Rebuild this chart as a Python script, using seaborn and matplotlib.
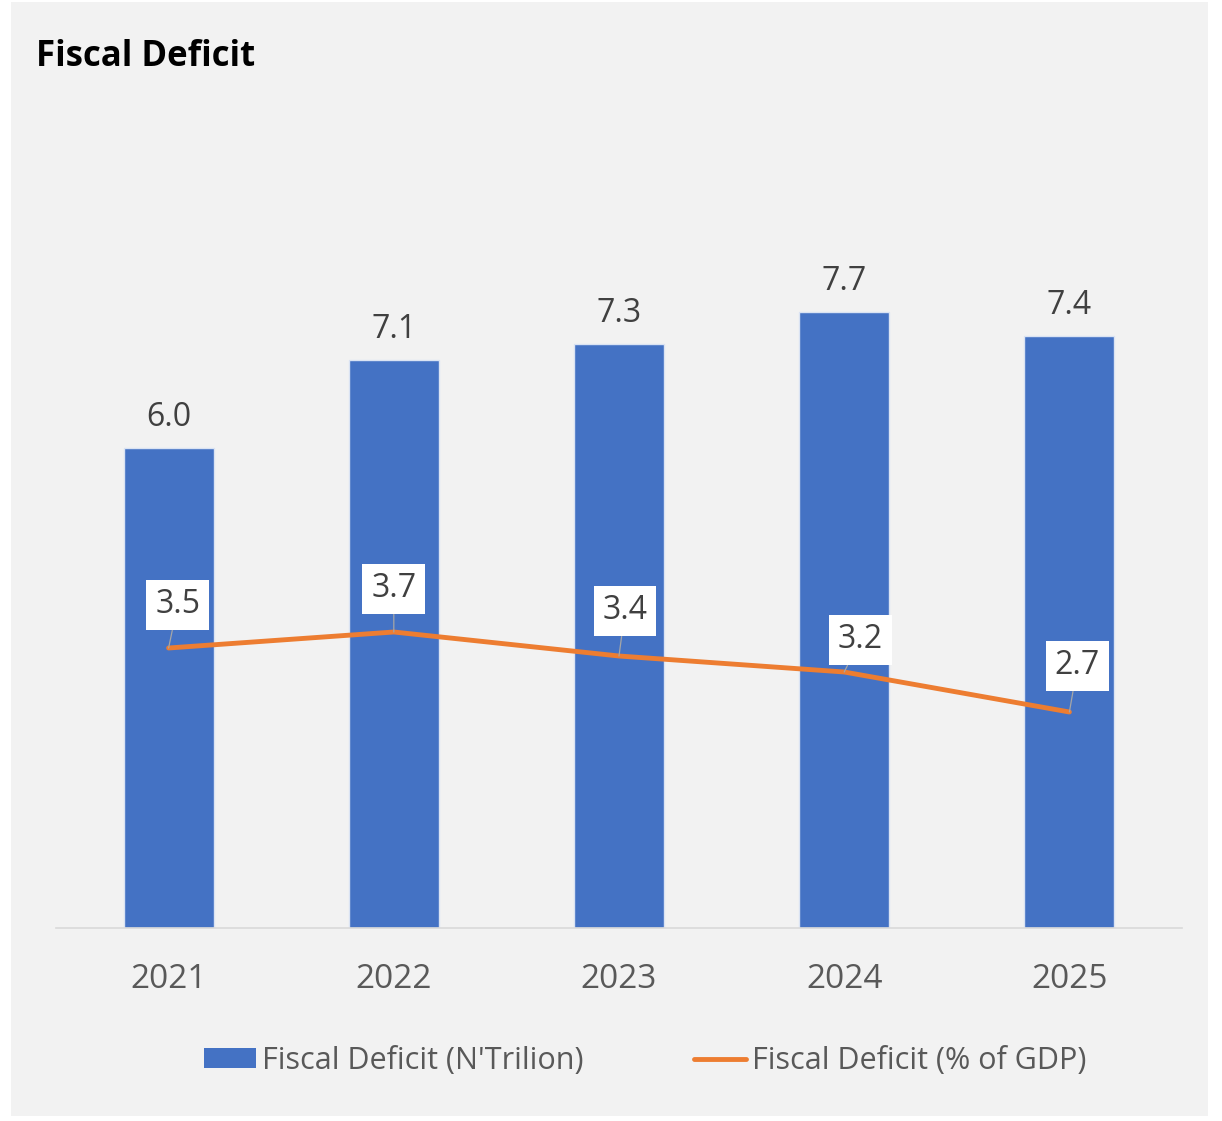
import numpy as np
import pandas as pd
import matplotlib
matplotlib.use("Agg")
import matplotlib.pyplot as plt
import seaborn as sns
from matplotlib.patches import Rectangle
from matplotlib.lines import Line2D

years = ["2021", "2022", "2023", "2024", "2025"]
deficit_trillion = [6.0, 7.1, 7.3, 7.7, 7.4]
deficit_pct_gdp = [3.5, 3.7, 3.4, 3.2, 2.7]
# label box offsets (pixels) for the % of GDP labels
label_dx = [9, 0, 6, 16, 8]
label_dy = [43, 43, 45, 32, 46]

BLUE = "#4472C4"
ORANGE = "#ED7D31"
BG = "#F2F2F2"

sns.set_theme(style="white")
plt.rcParams["font.family"] = ["Open Sans", "DejaVu Sans"]

W, H = 1222, 1121
fig = plt.figure(figsize=(W / 100, H / 100), dpi=100)
fig.patch.set_facecolor("white")
# grey chart panel
fig.patches.append(Rectangle((11 / W, 1 - 1116 / H), (1208 - 11) / W, (1116 - 2) / H,
                             transform=fig.transFigure, facecolor=BG, edgecolor="none", zorder=-10))

ax = fig.add_axes([56 / W, 1 - 928 / H, (1182 - 56) / W, 800 / H])
ax.set_facecolor("none")

df = pd.DataFrame({"year": years, "trillion": deficit_trillion, "pct": deficit_pct_gdp})
sns.barplot(data=df, x="year", y="trillion", color=BLUE, saturation=1, width=0.4,
            edgecolor="#DAE3F3", linewidth=1.0, ax=ax)
ax.set_xlim(-0.5, 4.5)
ax.set_ylim(0, 10)
ax.set_xlabel("")
ax.set_ylabel("")
ax.set_yticks([])
for s in ["top", "right", "left"]:
    ax.spines[s].set_visible(False)
ax.spines["bottom"].set_color("#D9D9D9")
ax.spines["bottom"].set_linewidth(1.2)
ax.tick_params(axis="x", length=0, pad=25, labelsize=24, labelcolor="#595959")

for cont in ax.containers:
    ax.bar_label(cont, fmt="%.1f", padding=10, fontsize=23, color="#404040")

ax2 = ax.twinx()
ax2.set_ylim(0, 10)
sns.lineplot(x=np.arange(len(years)), y=deficit_pct_gdp, color=ORANGE, linewidth=3.5,
             ax=ax2, legend=False)
ax2.set_xlim(-0.5, 4.5)
ax2.set_yticks([])
ax2.set_ylabel("")
for s in ax2.spines.values():
    s.set_visible(False)

for i, v in enumerate(deficit_pct_gdp):
    ax2.annotate(f"{v:.1f}", xy=(i, v), xytext=(label_dx[i], label_dy[i]),
                 textcoords="offset pixels", ha="center", va="center",
                 fontsize=23, color="#404040",
                 bbox=dict(boxstyle="square,pad=0.28", facecolor="white", edgecolor="none"),
                 arrowprops=dict(arrowstyle="-", color="#A6A6A6", lw=0.9,
                                 shrinkA=0, shrinkB=0))

fig.text(36 / W, 1 - 57 / H, "Fiscal Deficit", fontsize=25, fontweight="bold",
         color="black", ha="left", va="center")

handles = [Rectangle((0, 0), 1, 1, facecolor=BLUE, edgecolor="none"),
           Line2D([0], [0], color=ORANGE, linewidth=3.5, solid_capstyle="round")]
leg = fig.legend(handles, ["Fiscal Deficit (N'Trilion)", "Fiscal Deficit (% of GDP)"],
                 loc="center", bbox_to_anchor=(645 / W, 1 - 1061 / H), ncol=2,
                 frameon=False, fontsize=22, handlelength=1.7, handleheight=0.65,
                 handletextpad=0.2, columnspacing=3.6, labelcolor="#595959")

fig.savefig("out.png", dpi=100, facecolor=fig.get_facecolor())
